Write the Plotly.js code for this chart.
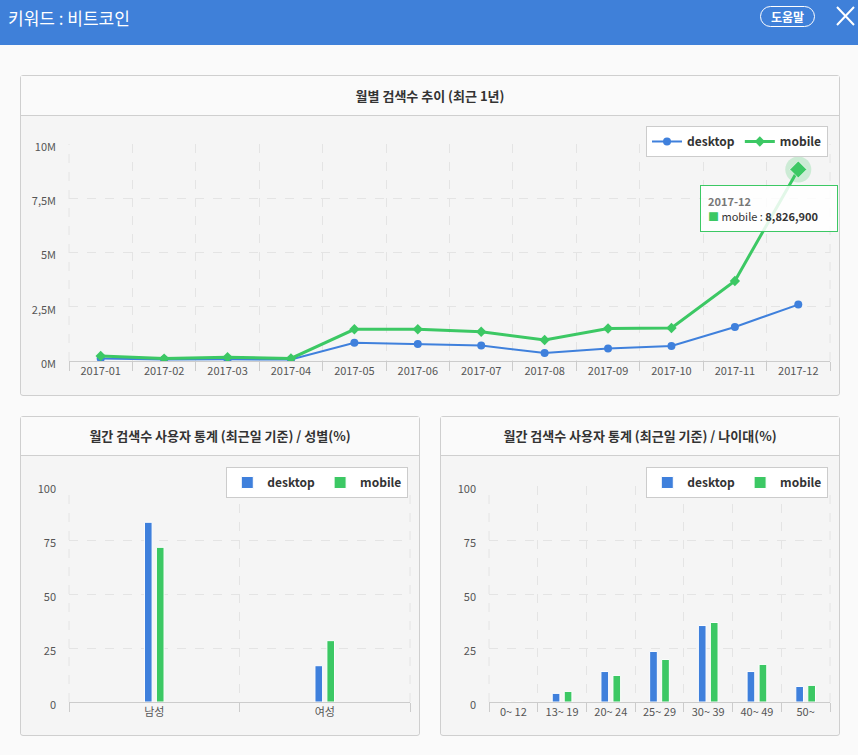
<!DOCTYPE html>
<html>
<head>
<meta charset="utf-8">
<script src="https://cdn.plot.ly/plotly-3.0.1.min.js"></script>
<style>
  html, body { margin:0; padding:0; }
  body { width:858px; height:755px; overflow:hidden; background:#fafafa; position:relative;
         font-family:"Noto Sans CJK KR","Noto Sans",sans-serif; }
  #hdr { position:absolute; left:0; top:0; width:858px; height:45px; background:#3f80d9; }
  #hdrTitle { position:absolute; left:8px; top:0; height:36px; line-height:36px; color:#fff; font-size:17px; }
  #help { position:absolute; left:760px; top:6px; width:53px; height:19px; border:1.5px solid #fff; border-radius:11px;
          color:#fff; font-size:12px; font-weight:bold; text-align:center; line-height:19px; }
  #close { position:absolute; left:836px; top:6px; }
  .panel { position:absolute; border:1px solid #cfcfcf; border-radius:3px; background:#f5f5f5; }
  .phead { position:absolute; left:0; top:0; right:0; background:#fafafa; border-bottom:1px solid #cfcfcf;
           text-align:center; color:#333; font-size:13px; font-weight:bold; }
  .plot { position:absolute; }
</style>
</head>
<body>
<div id="hdr">
  <div id="hdrTitle">키워드 : 비트코인</div>
  <div id="help">도움말</div>
  <svg id="close" width="19" height="20"><path d="M1,1 L18,19 M18,1 L1,19" stroke="#fff" stroke-width="2" fill="none"/></svg>
</div>

<div class="panel" style="left:20px;top:75px;width:818px;height:319px;">
  <div class="phead" style="height:39px;line-height:39px;">월별 검색수 추이 (최근 1년)</div>
</div>
<div class="panel" style="left:20px;top:416px;width:398px;height:318px;">
  <div class="phead" style="height:38px;line-height:38px;">월간 검색수 사용자 통계 (최근일 기준) / 성별(%)</div>
</div>
<div class="panel" style="left:440px;top:416px;width:398px;height:318px;">
  <div class="phead" style="height:38px;line-height:38px;">월간 검색수 사용자 통계 (최근일 기준) / 나이대(%)</div>
</div>

<div id="lineChart" class="plot" style="left:21px;top:116px;width:818px;height:278px;"></div>
<div id="genderChart" class="plot" style="left:21px;top:456px;width:398px;height:278px;"></div>
<div id="ageChart" class="plot" style="left:441px;top:456px;width:398px;height:278px;"></div>

<script>
// ---------- data ----------
const months = ['2017-01','2017-02','2017-03','2017-04','2017-05','2017-06','2017-07','2017-08','2017-09','2017-10','2017-11','2017-12'];
const desktopMonthly = [120000, 70000, 75000, 70000, 840000, 780000, 710000, 370000, 580000, 690000, 1570000, 2600000];
const mobileMonthly  = [230000, 110000, 170000, 120000, 1460000, 1460000, 1350000, 970000, 1500000, 1520000, 3690000, 8826900];
const yTickVals = [0, 2500000, 5000000, 7500000, 10000000];
const yTickText = ['0M', '2,5M', '5M', '7,5M', '10M'];

const genders = ['남성', '여성'];
const desktopGender = [83.2, 16.8];
const mobileGender  = [71.6, 28.4];

const ages = ['0~ 12', '13~ 19', '20~ 24', '25~ 29', '30~ 39', '40~ 49', '50~'];
const desktopAge = [0, 4.0, 14.1, 23.4, 35.4, 14.1, 7.2];
const mobileAge  = [0, 4.9, 12.3, 19.7, 36.8, 17.4, 7.7];
const pctTicks = [0, 25, 50, 75, 100];

// ---------- style ----------
const BLUE = '#3f80dc';
const GREEN = '#3cc864';
const FONT = '"Noto Sans CJK KR","Noto Sans",sans-serif';
const cfg = {displayModeBar:false, staticPlot:true};

function xAxis() {
  return {type:'category', tickson:'boundaries', ticks:'outside', ticklen:9, tickcolor:'#cccccc',
          showgrid:true, gridcolor:'#e4e4e4', griddash:'dash', gridwidth:1,
          showline:true, linecolor:'#cccccc', linewidth:1, zeroline:false,
          tickfont:{family:FONT, size:11, color:'#555'}, fixedrange:true};
}
function yAxis(range, vals, text) {
  return {range:range, tickvals:vals, ticktext:text, showgrid:true, gridcolor:'#e4e4e4', griddash:'dash',
          zeroline:false, showline:false, ticks:'', ticklabelstandoff:12, ticklabelshift:3,
          tickfont:{family:FONT, size:11, color:'#555'}, fixedrange:true};
}
function legendAt(x, y) {
  return {orientation:'h', x:x, y:y, xanchor:'right', yanchor:'top', bgcolor:'#ffffff',
          bordercolor:'#cccccc', borderwidth:1, itemwidth:30,
          font:{family:FONT, size:12, color:'#333', weight:700}};
}
const edgeLines = [0, 1].map(p => ({type:'line', xref:'paper', yref:'paper', x0:p, x1:p, y0:0, y1:1,
                                    layer:'below', line:{color:'#e4e4e4', width:1, dash:'dash'}}));

// ---------- line chart ----------
const fmt = v => v.toLocaleString('en-US');
const last = months.length - 1;
Plotly.newPlot('lineChart', [
  {x:months, y:desktopMonthly, name:'desktop', type:'scatter', mode:'lines+markers',
   line:{color:BLUE, width:2}, marker:{symbol:'circle', size:8, color:BLUE}},
  {x:months, y:mobileMonthly, name:'mobile', type:'scatter', mode:'lines+markers',
   line:{color:GREEN, width:3}, marker:{symbol:'diamond', size:8, color:GREEN}},
  {x:[months[last]], y:[mobileMonthly[last]], type:'scatter', mode:'markers', showlegend:false,
   marker:{symbol:'circle', size:26, color:'rgba(60,200,100,0.22)'}},
  {x:[months[last]], y:[mobileMonthly[last]], type:'scatter', mode:'markers', showlegend:false,
   marker:{symbol:'diamond', size:13, color:GREEN, line:{color:'rgba(255,255,255,0.6)', width:1}}}
], {
  width:818, height:278,
  margin:{l:48, r:9, t:28, b:33},
  paper_bgcolor:'#f5f5f5', plot_bgcolor:'#f5f5f5',
  xaxis:Object.assign(xAxis(), {range:[-0.5, months.length - 0.5]}),
  yaxis:yAxis([0, 10000000], yTickVals, yTickText),
  showlegend:true,
  legend:legendAt(0.9974, 1.083),
  shapes:edgeLines,
  annotations:[{
    x:months[last], y:mobileMonthly[last], xref:'x', yref:'y', showarrow:false,
    xanchor:'right', yanchor:'top', xshift:40, yshift:-16,
    width:122, height:31, align:'left', valign:'middle',
    bgcolor:'rgba(255,255,255,0.85)', bordercolor:GREEN, borderwidth:1, borderpad:7,
    font:{family:FONT, size:11, color:'#333'},
    text:'<span style="color:#777;font-weight:bold">' + months[last] + '</span><br>' +
         '<span style="color:' + GREEN + '">■</span> mobile : <b>' + fmt(mobileMonthly[last]) + '</b>'
  }]
}, cfg);

// ---------- bar charts ----------
function barChart(id, cats, d, m, bargap, bargroupgap) {
  Plotly.newPlot(id, [
    {x:cats, y:d, name:'desktop', type:'bar', marker:{color:BLUE, line:{color:'#ffffff', width:1}}},
    {x:cats, y:m, name:'mobile', type:'bar', marker:{color:GREEN, line:{color:'#ffffff', width:1}}}
  ], {
    width:398, height:278,
    margin:{l:48, r:9, t:30, b:32},
    paper_bgcolor:'#f5f5f5', plot_bgcolor:'#f5f5f5',
    barmode:'group', bargap:bargap, bargroupgap:bargroupgap,
    xaxis:xAxis(),
    yaxis:yAxis([0, 100], pctTicks, pctTicks.map(String)),
    showlegend:true,
    legend:legendAt(0.995, 1.088),
    shapes:edgeLines
  }, cfg);
}
barChart('genderChart', genders, desktopGender, mobileGender, 0.86, 0.36);
barChart('ageChart', ages, desktopAge, mobileAge, 0.507, 0.36);
</script>
</body>
</html>
